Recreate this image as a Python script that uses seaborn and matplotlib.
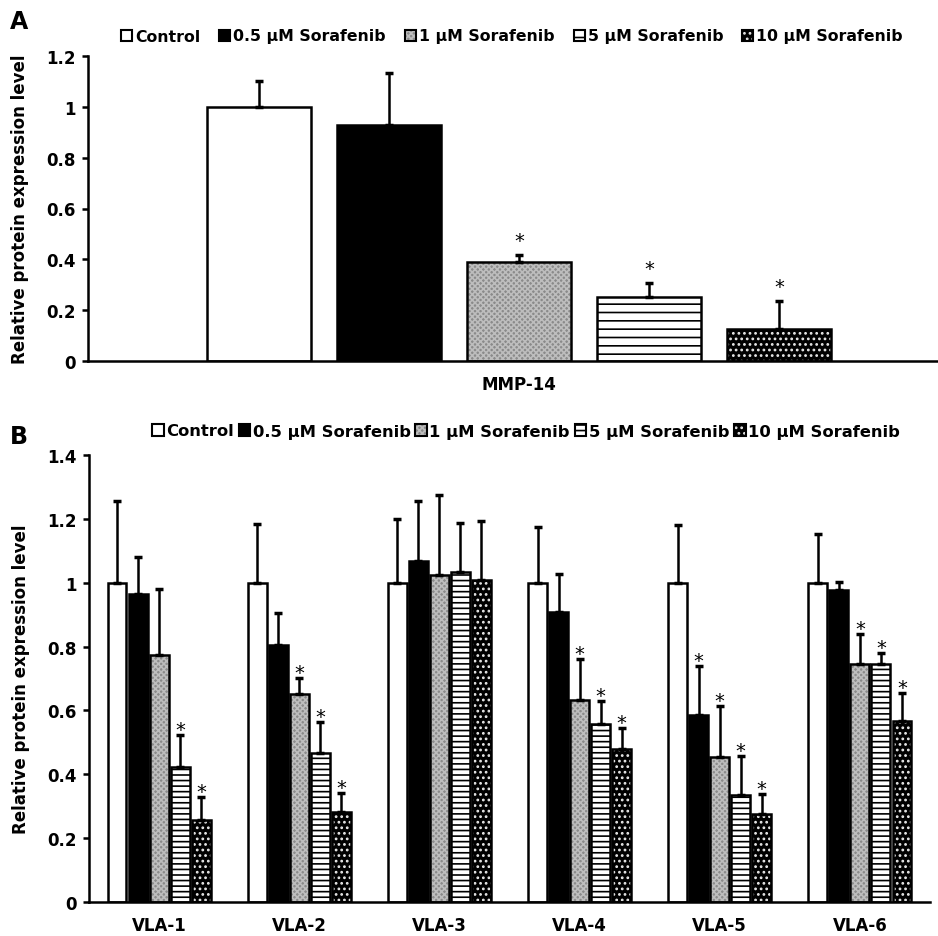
import numpy as np
import pandas as pd
import matplotlib
matplotlib.use("Agg")
import matplotlib.pyplot as plt
from matplotlib.container import BarContainer
from matplotlib.patches import Patch, Rectangle
from matplotlib.ticker import FixedLocator, FuncFormatter
import seaborn as sns

treatments = ["Control", "0.5 µM Sorafenib", "1 µM Sorafenib", "5 µM Sorafenib", "10 µM Sorafenib"]

# panel A: MMP-14
mmp_targets = ["MMP-14"]
mmp_mean = [1.00, 0.93, 0.39, 0.25, 0.125]
mmp_err = [0.10, 0.205, 0.028, 0.058, 0.112]
mmp_sig = [False, False, True, True, True]

# panel B: VLA-1 .. VLA-6, one list per treatment
vla_targets = ["VLA-1", "VLA-2", "VLA-3", "VLA-4", "VLA-5", "VLA-6"]
vla_control = [1.00, 1.00, 1.00, 1.00, 1.00, 1.00]
vla_05 = [0.966, 0.806, 1.069, 0.907, 0.585, 0.978]
vla_1 = [0.773, 0.653, 1.025, 0.633, 0.453, 0.746]
vla_5 = [0.422, 0.467, 1.033, 0.556, 0.334, 0.746]
vla_10 = [0.258, 0.283, 1.008, 0.478, 0.276, 0.568]

vla_control_err = [0.256, 0.185, 0.200, 0.174, 0.181, 0.154]
vla_05_err = [0.113, 0.098, 0.186, 0.121, 0.154, 0.025]
vla_1_err = [0.206, 0.048, 0.251, 0.129, 0.162, 0.094]
vla_5_err = [0.101, 0.098, 0.153, 0.073, 0.122, 0.033]
vla_10_err = [0.072, 0.059, 0.184, 0.068, 0.062, 0.086]

vla_control_sig = [False] * 6
vla_05_sig = [False, False, False, False, True, False]
vla_1_sig = [False, True, False, True, True, True]
vla_5_sig = [True, True, False, True, True, True]
vla_10_sig = [True, True, False, True, True, True]

yticks_a = [0, 0.2, 0.4, 0.6, 0.8, 1.0, 1.2]
yticks_b = [0, 0.2, 0.4, 0.6, 0.8, 1.0, 1.2, 1.4]

sns.set_style("ticks")
plt.rcParams["font.family"] = ["DejaVu Sans"]
plt.rcParams["font.weight"] = "bold"
plt.rcParams["hatch.linewidth"] = 1.2
for key in ["text.color", "axes.labelcolor", "xtick.color", "ytick.color", "axes.edgecolor"]:
    plt.rcParams[key] = "black"

fills = {
    "Control": "white",
    "0.5 µM Sorafenib": "black",
    "1 µM Sorafenib": "#8a8a8a",
    "5 µM Sorafenib": "white",
    "10 µM Sorafenib": "black",
}
# hatch colour (taken from edge colour) for the patterned treatments
hatch_spec = {
    "1 µM Sorafenib": ("xxxxxx", "#bdbdbd"),
    "10 µM Sorafenib": ("...", "#e8e8e8"),
}
LW = 1.8


def long_table(targets, series):
    rows = []
    for t, vals in zip(treatments, series):
        for cat, v in zip(targets, vals):
            rows.append({"target": cat, "treatment": t, "value": v})
    return pd.DataFrame(rows)


def bar_groups(ax):
    return [c for c in ax.containers if isinstance(c, BarContainer)]


def style_bars(ax, line_hatch):
    for t, cont in zip(treatments, bar_groups(ax)):
        for bar in cont:
            bar.set_edgecolor("black")
            bar.set_linewidth(LW)
            if t == "5 µM Sorafenib":
                bar.set_hatch(line_hatch)
            elif t in hatch_spec:
                # light pattern on dark fill, black outline drawn on top
                hatch, hcol = hatch_spec[t]
                bar.set_edgecolor(hcol)
                bar.set_linewidth(0)
                bar.set_hatch(hatch)
                ax.add_patch(Rectangle(bar.get_xy(), bar.get_width(), bar.get_height(),
                                       fill=False, edgecolor="black", linewidth=LW,
                                       zorder=bar.get_zorder() + 0.1))


def add_errors(ax, errs, sigs, star_off):
    for h, cont in enumerate(bar_groups(ax)):
        xs = [b.get_x() + b.get_width() / 2 for b in cont]
        ys = [b.get_height() for b in cont]
        ax.errorbar(xs, ys, yerr=[np.zeros(len(xs)), errs[h]], fmt="none",
                    ecolor="black", elinewidth=LW, capsize=3, capthick=2.5, zorder=3)
        for x, y, e, s in zip(xs, ys, errs[h], sigs[h]):
            if s:
                ax.annotate("*", (x, y + e), xytext=(0, star_off), textcoords="offset points",
                            ha="center", va="baseline", fontsize=14, fontweight="normal")


def finish_axes(ax, ticks):
    sns.despine(ax=ax)
    for sp in ["left", "bottom"]:
        ax.spines[sp].set_linewidth(LW)
        ax.spines[sp].set_color("black")
    ax.set_ylim(0, ticks[-1])
    ax.yaxis.set_major_locator(FixedLocator(ticks))
    ax.yaxis.set_major_formatter(FuncFormatter(lambda v, p: f"{v:g}"))
    ax.tick_params(axis="y", direction="out", length=4, width=LW, labelsize=12, pad=5)
    ax.tick_params(axis="x", length=0, labelsize=12, pad=10)
    ax.set_xlabel("")
    ax.set_ylabel("Relative protein expression level", fontsize=12, fontweight="bold", labelpad=12)


def legend_handles(line_hatch):
    handles = []
    for t in treatments:
        if t in hatch_spec:
            hatch, hcol = hatch_spec[t]
            handles.append((Patch(facecolor=fills[t], edgecolor=hcol, linewidth=0, hatch=hatch),
                            Patch(fill=False, edgecolor="black", linewidth=1.5)))
        elif t == "5 µM Sorafenib":
            handles.append(Patch(facecolor=fills[t], edgecolor="black", linewidth=1.5, hatch=line_hatch))
        else:
            handles.append(Patch(facecolor=fills[t], edgecolor="black", linewidth=1.5))
    return handles


fig = plt.figure(figsize=(9.38, 9.37), dpi=100)

# ---- panel A
axA = fig.add_axes([88 / 938, 1 - 362 / 937, (938 - 88) / 938, (362 - 57) / 937])
dfA = long_table(mmp_targets, [[v] for v in mmp_mean])
sns.barplot(data=dfA, x="target", y="value", hue="treatment", hue_order=treatments,
            palette=fills, saturation=1, width=0.755, gap=0.2, errorbar=None,
            legend=False, ax=axA)
style_bars(axA, "--")
add_errors(axA, [[e] for e in mmp_err], [[s] for s in mmp_sig], 6)
finish_axes(axA, yticks_a)
axA.set_xlim(-0.5, 0.486)

# ---- panel B
axB = fig.add_axes([89 / 938, 1 - 903 / 937, (930 - 89) / 938, (903 - 456) / 937])
dfB = long_table(vla_targets, [vla_control, vla_05, vla_1, vla_5, vla_10])
sns.barplot(data=dfB, x="target", y="value", hue="treatment", hue_order=treatments,
            palette=fills, saturation=1, width=0.75, gap=0.1, errorbar=None,
            legend=False, ax=axB)
style_bars(axB, "---")
add_errors(axB, [vla_control_err, vla_05_err, vla_1_err, vla_5_err, vla_10_err],
           [vla_control_sig, vla_05_sig, vla_1_sig, vla_5_sig, vla_10_sig], 0)
finish_axes(axB, yticks_b)
axB.set_xlim(-0.5, len(vla_targets) - 0.5)

# legends
fig.legend(legend_handles("--"), treatments, loc="center", bbox_to_anchor=(512 / 938, 1 - 37 / 937),
           ncol=5, frameon=False, handlelength=0.7, handleheight=0.7, handletextpad=0.2,
           columnspacing=1.2, prop={"size": 11.3, "weight": "bold"})
fig.legend(legend_handles("---"), treatments, loc="center", bbox_to_anchor=(526 / 938, 1 - 432 / 937),
           ncol=5, frameon=False, handlelength=0.7, handleheight=0.7, handletextpad=0.15,
           columnspacing=0.3, prop={"size": 11.8, "weight": "bold"})

fig.text(10 / 938, 1 - 22 / 937, "A", fontsize=17, fontweight="bold", va="center", ha="left")
fig.text(10 / 938, 1 - 437 / 937, "B", fontsize=17, fontweight="bold", va="center", ha="left")

fig.savefig("out.png", dpi=100)
